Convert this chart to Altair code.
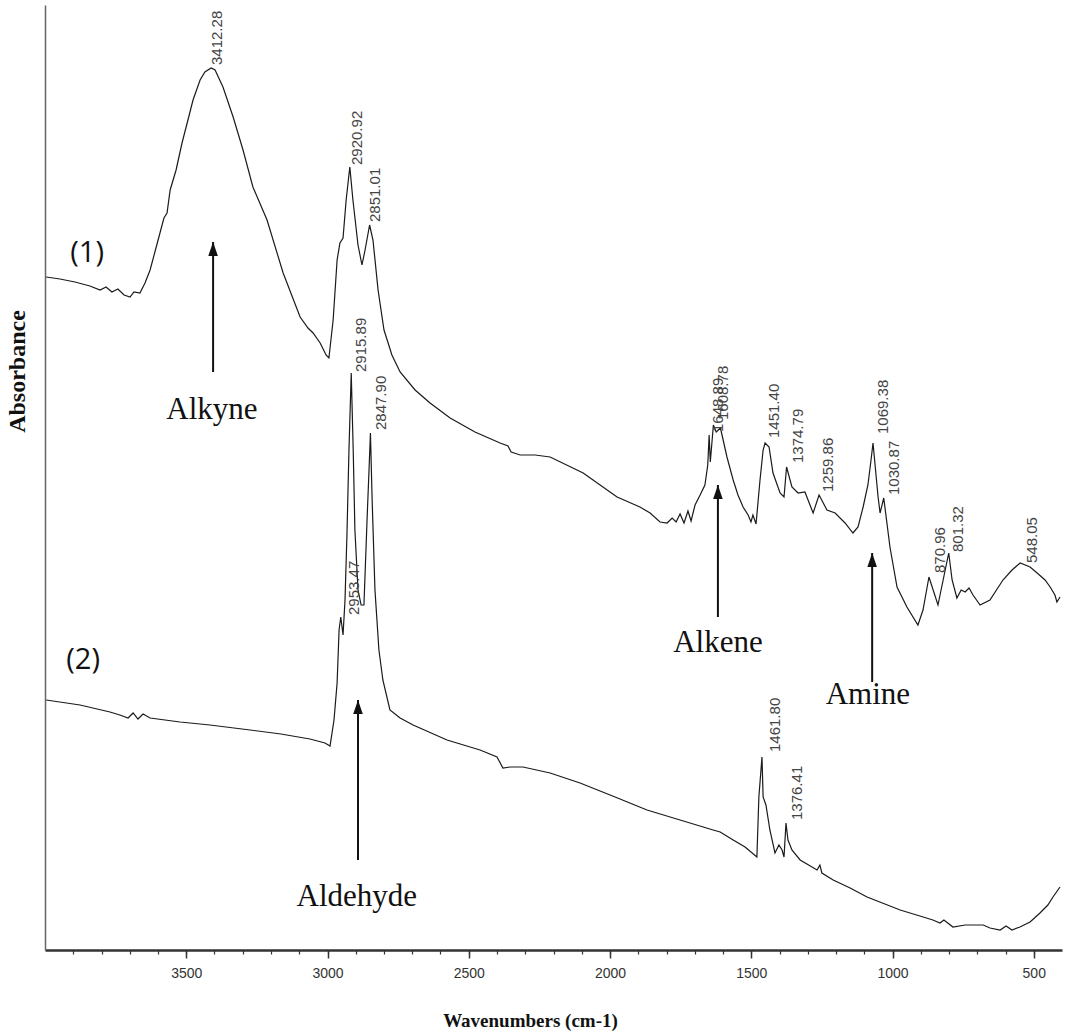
import altair as alt
import pandas as pd

# ---- spectrum (1) ----
wn1 = [3996, 3947, 3894, 3841, 3805, 3784, 3763, 3742, 3720, 3699, 3685, 3664, 3646, 3628, 3611, 3593,
       3579, 3568, 3557, 3536, 3515, 3494, 3476, 3451, 3434, 3412, 3398, 3370, 3334, 3299, 3264, 3214,
       3157, 3097, 3069, 3051, 3026, 3005, 2995, 2980, 2966, 2956, 2945, 2934, 2921, 2910, 2892, 2878,
       2867, 2851, 2839, 2821, 2800, 2772, 2743, 2690, 2637, 2566, 2478, 2389, 2361, 2350, 2318, 2265,
       2212, 2095, 1975, 1894, 1858, 1823, 1798, 1780, 1766, 1752, 1738, 1724, 1713, 1699, 1681, 1664,
       1654, 1649, 1645, 1634, 1624, 1609, 1586, 1564, 1547, 1529, 1511, 1501, 1494, 1483, 1469, 1458,
       1451, 1437, 1423, 1398, 1384, 1375, 1356, 1334, 1310, 1281, 1260, 1232, 1203, 1168, 1140, 1122,
       1104, 1087, 1076, 1069, 1051, 1044, 1031, 1009, 984, 949, 910, 892, 871, 839, 801, 789,
       772, 757, 743, 729, 715, 690, 655, 609, 577, 548, 513, 488, 460, 442, 425, 418, 407]
ab1 = [0.673, 0.671, 0.668, 0.664, 0.660, 0.663, 0.658, 0.661, 0.655, 0.653, 0.658, 0.657, 0.667, 0.680, 0.698, 0.717,
       0.732, 0.737, 0.760, 0.780, 0.807, 0.830, 0.850, 0.870, 0.878, 0.882, 0.880, 0.863, 0.833, 0.800, 0.763, 0.730,
       0.677, 0.633, 0.622, 0.617, 0.607, 0.595, 0.592, 0.630, 0.690, 0.707, 0.712, 0.750, 0.783, 0.750, 0.705, 0.685,
       0.700, 0.725, 0.710, 0.660, 0.620, 0.595, 0.578, 0.560, 0.547, 0.532, 0.518, 0.507, 0.504, 0.498, 0.495, 0.495,
       0.493, 0.477, 0.453, 0.443, 0.437, 0.428, 0.427, 0.432, 0.428, 0.436, 0.427, 0.439, 0.429, 0.445, 0.455, 0.465,
       0.485, 0.515, 0.488, 0.525, 0.518, 0.522, 0.493, 0.470, 0.455, 0.443, 0.435, 0.428, 0.435, 0.426, 0.470, 0.500,
       0.507, 0.503, 0.477, 0.457, 0.453, 0.483, 0.463, 0.457, 0.458, 0.437, 0.455, 0.440, 0.437, 0.427, 0.417, 0.423,
       0.443, 0.465, 0.490, 0.507, 0.453, 0.437, 0.452, 0.403, 0.363, 0.343, 0.325, 0.340, 0.373, 0.345, 0.397, 0.370,
       0.352, 0.360, 0.358, 0.362, 0.355, 0.345, 0.350, 0.370, 0.380, 0.387, 0.383, 0.377, 0.370, 0.363, 0.355, 0.348, 0.353]

# ---- spectrum (2) ----
wn2 = [3996, 3876, 3770, 3735, 3706, 3688, 3671, 3653, 3628, 3522, 3416, 3274, 3165, 3062, 3009, 2991,
       2977, 2966, 2959, 2953, 2945, 2938, 2931, 2924, 2916, 2909, 2903, 2892, 2881, 2871, 2860, 2853,
       2848, 2842, 2832, 2818, 2804, 2779, 2743, 2697, 2577, 2460, 2400, 2379, 2354, 2308, 2212, 2106,
       1982, 1869, 1752, 1635, 1610, 1564, 1522, 1480, 1473, 1462, 1458, 1448, 1434, 1416, 1402, 1391,
       1384, 1377, 1370, 1356, 1327, 1267, 1257, 1250, 1210, 1150, 1090, 973, 903, 857, 832, 818,
       786, 743, 679, 655, 619, 598, 577, 549, 513, 478, 450, 432, 407]
ab2 = [0.250, 0.245, 0.238, 0.235, 0.232, 0.237, 0.231, 0.236, 0.232, 0.228, 0.225, 0.220, 0.216, 0.211, 0.207, 0.204,
       0.230, 0.267, 0.320, 0.333, 0.315, 0.350, 0.417, 0.500, 0.577, 0.500, 0.420, 0.360, 0.345, 0.345, 0.430, 0.480,
       0.517, 0.450, 0.360, 0.300, 0.270, 0.240, 0.232, 0.225, 0.210, 0.200, 0.193, 0.182, 0.183, 0.183, 0.177, 0.167,
       0.153, 0.140, 0.130, 0.120, 0.118, 0.110, 0.103, 0.093, 0.153, 0.193, 0.153, 0.145, 0.120, 0.097, 0.105, 0.100,
       0.093, 0.127, 0.110, 0.100, 0.090, 0.080, 0.085, 0.077, 0.070, 0.062, 0.053, 0.040, 0.034, 0.030, 0.027, 0.030,
       0.023, 0.025, 0.025, 0.022, 0.020, 0.024, 0.020, 0.023, 0.028, 0.037, 0.045, 0.053, 0.063]

# ---- peak labels (text, wavenumber where the label sits, absorbance at label foot) ----
peak_text = ["3412.28", "2920.92", "2851.01", "1648.89", "1608.78", "1451.40", "1374.79", "1259.86",
             "1069.38", "1030.87", "870.96", "801.32", "548.05",
             "2915.89", "2847.90", "2953.47", "1461.80", "1376.41"]
peak_x = [3391, 2896, 2832, 1618, 1600, 1419, 1334, 1228, 1033, 995, 832, 768, 506,
          2881, 2811, 2906, 1416, 1338]
peak_y = [0.885, 0.785, 0.728, 0.518, 0.530, 0.512, 0.487, 0.458, 0.516, 0.455, 0.377, 0.398, 0.387,
          0.578, 0.520, 0.335, 0.198, 0.130]

# ---- functional group annotations ----
group_text = ["Alkyne", "Alkene", "Amine", "Aldehyde"]
group_x = [3409, 1618, 1087, 2896]
group_y = [0.540, 0.307, 0.255, 0.053]
arrow_x = [3405, 1618, 1072, 2892]
arrow_base = [0.578, 0.333, 0.268, 0.090]
arrow_tip = [0.708, 0.465, 0.397, 0.250]

# ---- sample tags ----
sample_text = ["(1)", "(2)"]
sample_x = [3851, 3865]
sample_y = [0.697, 0.290]

major_ticks = [500, 1000, 1500, 2000, 2500, 3000, 3500]
minor_ticks = list(range(500, 4000, 100))

df1 = pd.DataFrame({"w": wn1, "a": ab1})
df2 = pd.DataFrame({"w": wn2, "a": ab2})
dfp = pd.DataFrame({"t": peak_text, "w": peak_x, "a": peak_y})
dfg = pd.DataFrame({"t": group_text, "w": group_x, "a": group_y})
dfa = pd.DataFrame({"w": arrow_x, "a": arrow_base, "a2": arrow_tip})
dfs = pd.DataFrame({"t": sample_text, "w": sample_x, "a": sample_y})

xs = alt.Scale(domain=[400, 4000], reverse=True, nice=False, zero=False)
ys = alt.Scale(domain=[0, 0.945], nice=False, zero=False)

major_axis = alt.Axis(
    orient="bottom",
    values=major_ticks,
    title="Wavenumbers (cm-1)",
    titleFont="Liberation Serif", titleFontSize=19, titleFontWeight="bold", titleColor="#111",
    titleX=485, titleY=70, titleAlign="center", titleBaseline="middle",
    labelFont="Liberation Sans", labelFontSize=14, labelColor="#333",
    labelPadding=8, labelOverlap=False, labelFlush=False,
    format="d",
    tickSize=8, tickColor="#333", tickWidth=1.5,
    domainColor="#333", domainWidth=2.5, grid=False,
)
minor_axis = alt.Axis(
    orient="bottom",
    values=minor_ticks,
    title=None, labels=False, domain=False, grid=False,
    tickSize=4, tickColor="#333", tickWidth=1.2,
)
y_axis = alt.Axis(
    title="Absorbance",
    titleFont="Liberation Serif", titleFontSize=24, titleFontWeight="bold", titleColor="#111",
    titleAngle=270, titleX=-28, titleY=366, titleAlign="center", titleBaseline="middle",
    labels=False, ticks=False, grid=False, domainColor="#666", domainWidth=1.5,
)

line1 = alt.Chart(df1).mark_line(color="#1a1a1a", strokeWidth=1.2).encode(
    x=alt.X("w:Q", scale=xs, axis=major_axis),
    y=alt.Y("a:Q", scale=ys, axis=y_axis),
)
line2 = alt.Chart(df2).mark_line(color="#1a1a1a", strokeWidth=1.2).encode(
    x=alt.X("w:Q", scale=xs, axis=minor_axis),
    y=alt.Y("a:Q", scale=ys),
)
peaks = alt.Chart(dfp).mark_text(
    angle=270, align="left", baseline="middle", font="Liberation Sans", fontSize=15, color="#444"
).encode(x=alt.X("w:Q", scale=xs, axis=None), y=alt.Y("a:Q", scale=ys), text="t:N")

groups = alt.Chart(dfg).mark_text(
    align="center", baseline="middle", font="Liberation Serif", fontSize=31, color="#111"
).encode(x=alt.X("w:Q", scale=xs, axis=None), y=alt.Y("a:Q", scale=ys), text="t:N")

shafts = alt.Chart(dfa).mark_rule(color="#111", strokeWidth=2).encode(
    x=alt.X("w:Q", scale=xs, axis=None), y=alt.Y("a:Q", scale=ys), y2="a2:Q"
)
heads = alt.Chart(dfa).mark_point(
    shape="M0,0L1.2,3.5L-1.2,3.5Z", size=64, filled=True, color="#111", opacity=1, strokeWidth=0
).encode(x=alt.X("w:Q", scale=xs, axis=None), y=alt.Y("a2:Q", scale=ys))

samples = alt.Chart(dfs).mark_text(
    align="center", baseline="middle", font="Open Sans", fontSize=29, color="#111"
).encode(x=alt.X("w:Q", scale=xs, axis=None), y=alt.Y("a:Q", scale=ys), text="t:N")

chart = alt.layer(line1, line2, peaks, shafts, heads, groups, samples).resolve_axis(
    x="independent"
).properties(
    width=1017, height=945,
    autosize=alt.AutoSizeParams(type="none"),
    padding={"left": 45, "top": 5, "right": 4, "bottom": 84},
    background="white",
).configure_view(stroke=None)

chart.save("out.html", embed_options={"renderer": "svg", "actions": False})
